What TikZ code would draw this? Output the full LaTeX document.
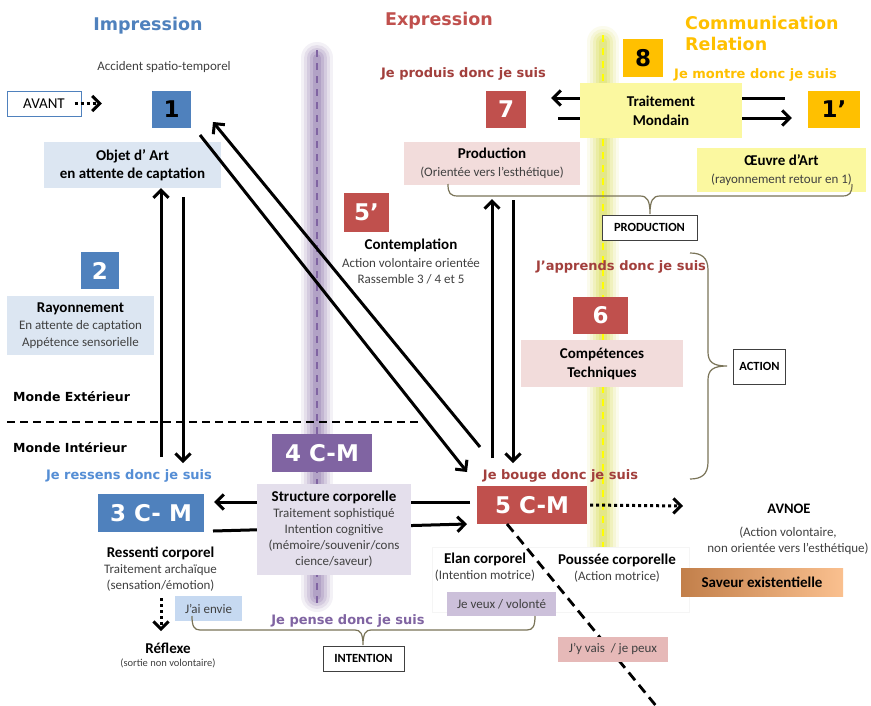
\documentclass[tikz,border=0pt]{standalone}
\usepackage{fontspec}
\setmainfont{Carlito}
\newfontfamily\vfont{DejaVu Sans}
\usetikzlibrary{arrows.meta}
\definecolor{impblue}{HTML}{4F81BD}
\definecolor{lightblue}{HTML}{DCE6F2}
\definecolor{exred}{HTML}{C0504D}
\definecolor{darkred}{HTML}{A23F3C}
\definecolor{lightpink}{HTML}{F2DCDB}
\definecolor{comorange}{HTML}{FFC000}
\definecolor{paleyellow}{HTML}{FBF8A0}
\definecolor{purp}{HTML}{8064A2}
\definecolor{lightpurp}{HTML}{E4DFEC}
\definecolor{veuxpurp}{HTML}{CCC0DA}
\definecolor{envieblue}{HTML}{C6D9F1}
\definecolor{vaispink}{HTML}{E6B9B8}
\definecolor{ressblue}{HTML}{558ED5}
\definecolor{bracecol}{HTML}{7A7458}
\definecolor{txtgray}{HTML}{404040}
\definecolor{bandyellow}{HTML}{D4D83A}
\definecolor{saveurL}{HTML}{C27F4A}
\definecolor{saveurR}{HTML}{FAC08F}
\definecolor{bandyel}{HTML}{FFFF00}
\begin{document}
\begin{tikzpicture}[x=1pt,y=-1pt,
  numbox/.style={inner sep=0pt, font=\vfont\bfseries\fontsize{23}{26}\selectfont, text=white},
  head/.style={inner sep=0pt, font=\vfont\bfseries\fontsize{17.5}{22}\selectfont},
  motto/.style={inner sep=0pt, font=\vfont\bfseries\fontsize{13}{15}\selectfont},
  monde/.style={inner sep=0pt, anchor=west, font=\vfont\bfseries\fontsize{12.5}{15}\selectfont},
  lbl/.style={inner sep=0pt, align=center, text=txtgray, font=\fontsize{13}{16}\selectfont},
  blbl/.style={inner sep=0pt, align=center, font=\bfseries\fontsize{15}{18}\selectfont},
  box/.style={inner sep=0pt, align=center},
  arr/.style={line width=3pt, -{Straight Barb[length=7.5pt,width=15pt]}},
  dotarr/.style={line width=3pt, dash pattern=on 3pt off 3pt, -{Straight Barb[length=7.5pt,width=15pt]}},
  brace/.style={line width=1.2pt, draw=bracecol},
  tagbox/.style={draw=txtgray, line width=1pt, fill=white, inner sep=0pt, font=\bfseries\fontsize{12.5}{15}\selectfont}
]
\useasboundingbox (0,0) rectangle (871,705);
\fill[white] (0,0) rectangle (871,705);

% glowing bands
\foreach \w/\o in {32/0.09,26/0.12,20/0.16,14/0.2,8/0.24}{
  \draw[line width=\w pt, line cap=round, draw=purp, opacity=\o] (317,58) -- (317,596);
  \draw[line width=\w pt, line cap=round, draw=bandyellow, opacity=\o] (603,42) -- (603,585);
}
\draw[dash pattern=on 7pt off 6pt, line width=1.6pt, draw=purp] (317,50) -- (317,605);
\draw[dash pattern=on 7pt off 6pt, line width=1.8pt, draw=bandyel] (603,35) -- (603,590);

% white panel
\node[fill=white, draw=black!4, minimum width=257pt, minimum height=65pt, inner sep=0pt] (panel) at (561,579.5) {};

% dashed horizontal separator
\draw[line width=1.6pt, dash pattern=on 8pt off 5pt] (7,422) -- (420,422);

% headings
\node[head, text=impblue] (himp) at (148,26) {Impression};
\node[head, text=exred] (hexp) at (439,21) {Expression};
\node[head, text=comorange, anchor=west, align=left, font=\vfont\bfseries\fontsize{17.5}{21.5}\selectfont] (hcom) at (685,33.5) {Communication\\Relation};

% mottos
\node[motto, text=darkred] (mprod) at (463.5,74) {Je produis donc je suis};
\node[motto, text=comorange] (mmont) at (755.5,75) {Je montre donc je suis};
\node[motto, text=darkred] (mappr) at (621,267) {J’apprends donc je suis};
\node[motto, text=darkred] (mboug) at (560.5,475.5) {Je bouge donc je suis};
\node[motto, text=ressblue] (mress) at (129,476) {Je ressens donc je suis};
\node[motto, text=purp] (mpens) at (348,620.5) {Je pense donc je suis};
\node[monde] (mext) at (13,397) {Monde Extérieur};
\node[monde] (mint) at (13,448) {Monde Intérieur};

% left column
\node[lbl] (acc) at (164,67) {Accident spatio-temporel};
\node[box, draw=impblue, line width=1pt, minimum width=74pt, minimum height=25pt, font=\fontsize{15}{18}\selectfont] (avant) at (44,103.5) {AVANT};
\node[numbox, fill=impblue, text=black, minimum width=39pt, minimum height=37pt] (b1) at (171.5,109.5) {1};
\node[box, blbl, fill=lightblue, minimum width=177pt, minimum height=46pt] (obj) at (132.5,165) {Objet d’ Art\\en attente de captation};
\node[numbox, fill=impblue, minimum width=38pt, minimum height=37pt] (b2) at (100,270.5) {2};
\node[box, fill=lightblue, minimum width=147pt, minimum height=59pt, text=txtgray, font=\fontsize{13}{17}\selectfont] (ray) at (80.5,325.5) {{\color{black}\bfseries\fontsize{15}{17}\selectfont Rayonnement}\\En attente de captation\\Appétence sensorielle};
\node[numbox, fill=impblue, minimum width=106pt, minimum height=38pt] (cm3) at (151,513) {3 C- M};
\node[lbl] (ress) at (160.5,569.5) {{\color{black}\bfseries\fontsize{15}{17}\selectfont Ressenti corporel}\\Traitement archaïque\\(sensation/émotion)};
\node[box, fill=envieblue, minimum width=67pt, minimum height=25pt, text=txtgray, font=\fontsize{13}{16}\selectfont] (envie) at (208.5,608.5) {J’ai envie};
\node[blbl] (refl) at (168,648) {Réflexe};
\node[lbl, font=\fontsize{10.5}{13}\selectfont] (reflsub) at (168,663.5) {(sortie non volontaire)};

% middle column
\node[numbox, fill=purp, minimum width=100pt, minimum height=38pt] (cm4) at (322,453) {4 C-M};
\node[numbox, fill=exred, minimum width=45pt, minimum height=39pt] (b5p) at (366.5,212.5) {5’};
\node[lbl] (contl) at (411,261) {{\color{black}\bfseries\fontsize{15}{19}\selectfont Contemplation}\\[2pt]Action volontaire orientée\\Rassemble 3 / 4 et 5};
\node[tagbox, minimum width=81pt, minimum height=25pt] (intent) at (363.5,658.5) {INTENTION};

% right-middle column
\node[numbox, fill=exred, minimum width=40pt, minimum height=37pt] (b7) at (506,109.5) {7};
\node[box, fill=lightpink, minimum width=176pt, minimum height=43pt, text=txtgray, font=\fontsize{13}{18}\selectfont] (prod) at (492,163.5) {{\color{black}\bfseries\fontsize{15}{18}\selectfont Production}\\(Orientée vers l’esthétique)};
\node[numbox, fill=exred, minimum width=55pt, minimum height=37pt] (b6) at (600.5,315.5) {6};
\node[box, blbl, fill=lightpink, minimum width=162pt, minimum height=47pt, font=\bfseries\fontsize{15}{19}\selectfont] (comp) at (602,363.5) {Compétences\\Techniques};
\node[numbox, fill=exred, minimum width=110pt, minimum height=38pt] (cm5) at (532,505) {5 C-M};
\node[lbl] (elan) at (485,567.5) {{\color{black}\bfseries\fontsize{15}{18}\selectfont Elan corporel}\\(Intention motrice)};
\node[lbl] (pous) at (617,568) {{\color{black}\bfseries\fontsize{15}{18}\selectfont Poussée corporelle}\\(Action motrice)};
\node[box, fill=veuxpurp, minimum width=109pt, minimum height=24pt, text=txtgray, font=\fontsize{13}{16}\selectfont] (veux) at (501.5,604) {Je veux / volonté};

% right column
\node[numbox, fill=comorange, text=black, minimum width=40pt, minimum height=38pt] (b8) at (643,58) {8};
\node[numbox, fill=comorange, text=black, minimum width=52pt, minimum height=37pt] (b1p) at (834,109.5) {1’};
\node[box, fill=paleyellow, minimum width=169pt, minimum height=44pt, text=txtgray, font=\fontsize{13}{18}\selectfont] (oeuv) at (781.5,170) {{\color{black}\bfseries\fontsize{15}{18}\selectfont Œuvre d’Art}\\(rayonnement retour en 1)};
\node[tagbox, minimum width=95pt, minimum height=25pt] (prodtag) at (649.5,227.5) {PRODUCTION};
\node[tagbox, minimum width=52pt, minimum height=35pt] (acttag) at (759.5,366.5) {ACTION};
\node[inner sep=0pt, font=\bfseries\fontsize{14.5}{17}\selectfont] (avnoe) at (789,509) {AVNOE};
\node[lbl] (avnoesub) at (788,540.5) {(Action volontaire,\\non orientée vers l’esthétique)};
\node[box, left color=saveurL, right color=saveurR, minimum width=162pt, minimum height=28pt, font=\bfseries\fontsize{15}{18}\selectfont] (sav) at (762,582) {Saveur existentielle};

% free ends of connectors
\coordinate (ua) at (161,457);
\coordinate (ds) at (183,197);
\coordinate (de) at (183,463);
\coordinate (a1s) at (200,135);
\coordinate (a1e) at (467,472);
\coordinate (a2s) at (480,447);
\coordinate (a2e) at (213,122);
\coordinate (v1s) at (492,458);
\coordinate (v1e) at (492,199);
\coordinate (v2s) at (513,200);
\coordinate (v2e) at (513,463);
\coordinate (t1s) at (785,98);
\coordinate (t2s) at (558,118);
\coordinate (s1s) at (470,502);
\coordinate (s2s) at (213,531);
\coordinate (s2e) at (467,524);
\coordinate (avn) at (683,506);
\coordinate (rs) at (161,598);
\coordinate (re) at (161,631);
\coordinate (dd1) at (507,524);
\coordinate (dd2) at (657,707);

% connectors
\draw[arr] (ua) -- (ua |- obj.south);
\draw[arr] (ds) -- (de);
\draw[arr] (a1s) -- (a1e);
\draw[arr] (a2s) -- (a2e);
\draw[arr] (v1s) -- (v1e);
\draw[arr] (v2s) -- (v2e);
\draw[arr, shorten >=25pt] (t1s) -- (t1s -| b7.east);
\draw[arr, shorten >=16pt] (t2s) -- (t2s -| b1p.west);
\draw[arr, shorten >=10pt] (s1s) -- (s1s -| cm3.east);
\draw[arr] (s2s) -- (s2e);
\draw[dotarr, shorten <=-7pt, shorten >=50pt] (avant.east) -- (avant.east -| b1.west);
\draw[dotarr, shorten <=3pt] (cm5.east) -- (avn);
\draw[dotarr] (rs) -- (re);
\draw[line width=2.8pt, dash pattern=on 10pt off 6pt] (dd1) -- (dd2);

% boxes lying over connectors
\node[box, fill=vaispink, minimum width=110pt, minimum height=25pt, text=txtgray, font=\fontsize{13}{16}\selectfont] (vais) at (613,649.5) {J’y vais \ / je peux};
\node[box, fill=paleyellow, minimum width=162pt, minimum height=55pt, font=\bfseries\fontsize{15}{19}\selectfont] (trait) at (661,110.5) {Traitement\\Mondain};
\node[box, fill=lightpurp, minimum width=154pt, minimum height=91pt, text=txtgray, font=\fontsize{13}{16}\selectfont] (struct) at (334,529.5) {{\color{black}\bfseries\fontsize{15}{16}\selectfont Structure corporelle}\\Traitement sophistiqué\\Intention cognitive\\(mémoire/souvenir/cons\\cience/saveur)};

% braces
\draw[brace] (448,184) .. controls (448,193) and (450,196) .. (458,196) -- (640,196)
  .. controls (647,196) and (650,200) .. (650,214) .. controls (650,200) and (653,196) .. (660,196)
  -- (842,196) .. controls (850,196) and (852,193) .. (852,184);
\draw[brace] (192,616) .. controls (192,626) and (194,630) .. (200,630) -- (355,630)
  .. controls (360,630) and (363,633) .. (363,645) .. controls (363,633) and (366,630) .. (371,630)
  -- (527,630) .. controls (533,630) and (535,626) .. (535,616);
\draw[brace] (690,253) .. controls (702,253) and (708,258) .. (708,270) -- (708,352)
  .. controls (708,362) and (713,366) .. (727,366) .. controls (713,366) and (708,370) .. (708,380)
  -- (708,462) .. controls (708,474) and (702,479) .. (690,479);
\end{tikzpicture}
\end{document}
